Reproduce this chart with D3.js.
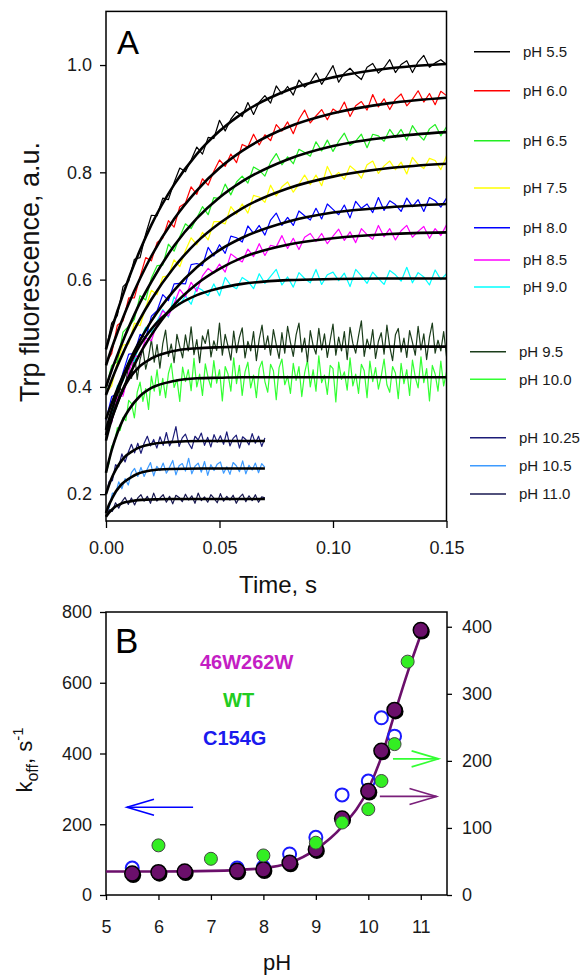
<!DOCTYPE html>
<html>
<head>
<meta charset="utf-8">
<script src="https://cdn.jsdelivr.net/npm/d3@7"></script>
<style>
  body { margin: 0; background: #fff; }
  svg { font-family: "Liberation Sans", Arial, sans-serif; }
</style>
</head>
<body>
<div id="chart"></div>
<script>
// ---------- Panel A: stopped-flow traces ----------
const phLabels = ["pH 5.5", "pH 6.0", "pH 6.5", "pH 7.5", "pH 8.0", "pH 8.5", "pH 9.0",
                  "pH 9.5", "pH 10.0", "pH 10.25", "pH 10.5", "pH 11.0"];
const traceColors = ["#000000", "#ff0000", "#22ee22", "#ffff00", "#0000ff", "#ff00ff", "#00ffff",
                     "#1b3d1b", "#33ff33", "#1c1c78", "#3d9bff", "#181850"];

// sampling grids of the recorded traces (s)
const tLong = d3.range(61).map(i => i * 0.0025);
const tDense = d3.range(121).map(i => i * 0.00125);
const tShort = d3.range(51).map(i => i * 0.0014);

const trace55 = [.470,.519,.533,.587,.597,.638,.641,.685,.720,.719,.752,.749,.781,.808,.801,.823,.847,.834,.865,.863,.897,.877,.899,.913,.904,.930,.908,.931,.943,.929,.961,.946,.960,.944,.972,.959,.968,.985,.964,.981,.999,.968,.985,.994,.982,.973,.996,1.003,.985,.995,1.010,.986,1.001,1.008,.986,1.006,1.018,.996,1.004,1.010,1.001];
const trace60 = [.445,.462,.515,.523,.566,.566,.605,.641,.635,.669,.677,.710,.698,.736,.743,.773,.759,.788,.776,.802,.823,.811,.834,.818,.852,.847,.871,.851,.870,.859,.889,.877,.894,.872,.899,.916,.892,.905,.917,.898,.918,.911,.931,.904,.924,.932,.916,.945,.922,.937,.917,.936,.946,.924,.936,.952,.931,.947,.926,.951,.943];
const trace65 = [.397,.440,.447,.502,.513,.526,.570,.562,.603,.626,.627,.666,.653,.680,.704,.695,.715,.736,.721,.753,.751,.778,.758,.782,.793,.780,.810,.804,.793,.819,.835,.814,.829,.816,.843,.837,.830,.857,.840,.860,.839,.858,.873,.850,.858,.871,.846,.871,.868,.858,.880,.865,.880,.860,.887,.871,.860,.881,.889,.868,.885];
const trace75 = [.389,.402,.447,.478,.480,.519,.514,.548,.580,.572,.605,.607,.637,.624,.654,.678,.665,.688,.674,.708,.708,.704,.736,.722,.741,.724,.757,.754,.744,.776,.756,.773,.782,.763,.778,.795,.777,.795,.775,.811,.790,.800,.787,.812,.803,.789,.814,.821,.798,.812,.821,.805,.819,.797,.828,.815,.807,.826,.822,.805,.831];
const trace80 = [.338,.382,.387,.427,.461,.462,.498,.491,.532,.542,.572,.561,.592,.593,.592,.628,.630,.626,.660,.644,.665,.649,.681,.678,.670,.700,.686,.701,.683,.711,.724,.701,.716,.701,.728,.719,.711,.733,.713,.741,.731,.721,.739,.715,.746,.733,.741,.725,.753,.729,.747,.740,.727,.752,.736,.749,.727,.753,.747,.735,.752];
const trace85 = [.313,.334,.381,.383,.427,.457,.458,.491,.486,.518,.542,.532,.555,.582,.568,.595,.578,.607,.621,.612,.629,.614,.648,.640,.633,.657,.643,.667,.645,.664,.661,.682,.658,.677,.656,.679,.686,.671,.686,.667,.681,.694,.673,.689,.669,.695,.684,.675,.701,.680,.695,.674,.691,.701,.679,.690,.699,.677,.695,.682,.702];
const trace90 = [.326,.347,.402,.411,.450,.447,.486,.511,.502,.523,.544,.530,.568,.553,.570,.554,.586,.580,.570,.592,.570,.604,.589,.583,.604,.597,.583,.611,.593,.606,.619,.590,.605,.586,.613,.602,.594,.619,.591,.609,.614,.598,.612,.587,.619,.607,.593,.614,.602,.591,.617,.609,.597,.623,.594,.613,.605,.590,.618,.600,.611];
const trace95 = [.300,.330,.334,.368,.367,.399,.386,.410,.439,.416,
  .466,.414,.451,.471,.433,.456,.488,.446,.479,.435,
  .480,.506,.457,.480,.445,.498,.475,.454,.497,.467,
  .512,.460,.488,.445,.495,.481,.507,.456,.486,.468,
  .519,.459,.498,.476,.450,.504,.464,.492,.510,.454,
  .485,.467,.503,.449,.489,.515,.470,.495,.459,.507,
  .479,.453,.501,.463,.513,.483,.457,.497,.519,.465,
  .491,.447,.505,.477,.461,.509,.469,.499,.455,.487,
  .517,.459,.493,.467,.503,.451,.511,.481,.463,.495,
  .523,.457,.489,.471,.507,.453,.485,.501,.461,.515,
  .475,.449,.497,.509,.465,.491,.455,.505,.483,.459,
  .513,.469,.499,.451,.493,.519,.463,.487,.467,.503,
  .457];
const trace100 = [.240,.257,.289,.296,.324,.319,.343,.337,.375,.369,
  .342,.390,.409,.373,.397,.358,.420,.392,.432,.384,
  .416,.380,.425,.444,.399,.414,.373,.437,.410,.432,
  .393,.453,.400,.424,.384,.443,.417,.399,.449,.407,
  .432,.374,.438,.424,.392,.454,.406,.440,.384,.428,
  .446,.398,.422,.380,.434,.448,.410,.390,.442,.430,
  .376,.436,.452,.404,.420,.388,.444,.412,.438,.382,
  .426,.450,.400,.432,.392,.458,.408,.422,.386,.440,
  .434,.372,.446,.414,.428,.394,.454,.402,.424,.388,
  .442,.430,.380,.448,.410,.436,.396,.420,.452,.404,
  .390,.438,.426,.378,.444,.406,.432,.384,.450,.418,
  .398,.456,.408,.434,.374,.440,.424,.392,.448,.402,
  .428];
const trace1025 = [.200,.224,.225,.255,.251,.275,.260,.278,.293,.277,.295,.276,.295,.308,.290,.302,.286,.307,.291,.315,.290,.302,.326,.289,.305,.312,.295,.285,.308,.301,.314,.291,.306,.288,.311,.297,.309,.293,.316,.290,.304,.310,.286,.307,.302,.292,.313,.295,.308,.289,.305];
const trace105 = [.167,.175,.202,.201,.223,.210,.229,.217,.240,.248,.233,.250,.233,.247,.259,.234,.252,.244,.258,.239,.250,.263,.236,.253,.257,.243,.267,.238,.252,.258,.241,.261,.235,.255,.244,.256,.260,.239,.251,.237,.259,.253,.242,.262,.238,.254,.245,.258,.240,.257,.250];
const trace110 = [.158,.171,.168,.184,.174,.186,.194,.181,.193,.180,.193,.199,.187,.196,.183,.202,.187,.193,.199,.185,.196,.182,.198,.194,.186,.200,.189,.197,.183,.202,.188,.195,.185,.199,.192,.184,.201,.187,.196,.189,.198,.183,.194,.200,.186,.197,.188,.199,.185,.195,.193];

// single-exponential fits, read at these times
const fitTimesLong = [0, 0.0025, 0.005, 0.0075, 0.01, 0.015, 0.02, 0.03, 0.04, 0.05, 0.06, 0.08, 0.1, 0.125, 0.15];
const fitTimesShort = [0, 0.0014, 0.0028, 0.0042, 0.0056, 0.007, 0.0084, 0.0112, 0.014, 0.0196, 0.028, 0.042, 0.07];
const fit55 = [.470,.507,.541,.572,.602,.655,.702,.777,.834,.877,.910,.953,.977,.994,1.002];
const fit60 = [.440,.472,.501,.529,.555,.602,.644,.713,.766,.808,.840,.884,.910,.929,.939];
const fit65 = [.400,.431,.459,.486,.511,.557,.596,.663,.714,.753,.783,.824,.849,.866,.875];
const fit75 = [.385,.413,.439,.463,.486,.527,.563,.623,.670,.705,.733,.770,.792,.808,.816];
const fit80 = [.340,.369,.396,.421,.445,.487,.523,.580,.623,.655,.678,.708,.725,.735,.741];
const fit85 = [.310,.341,.369,.396,.419,.462,.497,.553,.592,.620,.641,.665,.677,.685,.688];
const fit90 = [.320,.356,.388,.415,.439,.478,.508,.548,.571,.584,.592,.599,.601,.602,.602];
const fit95 = [.300,.340,.371,.395,.414,.439,.453,.467,.472,.474,.475,.475,.475,.475,.475];
const fit100 = [.240,.282,.314,.339,.357,.383,.398,.411,.416,.417,.418,.418,.418,.418,.418];
const fit1025 = [.200,.218,.233,.245,.255,.263,.270,.279,.286,.293,.297,.299,.299];
const fit105 = [.165,.181,.193,.204,.212,.219,.224,.232,.238,.244,.247,.248,.248];
const fit110 = [.158,.166,.172,.177,.180,.183,.185,.187,.189,.190,.191,.191,.191];

const traceValues = [trace55, trace60, trace65, trace75, trace80, trace85, trace90, trace95, trace100, trace1025, trace105, trace110];
const traceTimes = [tLong, tLong, tLong, tLong, tLong, tLong, tLong, tDense, tDense, tShort, tShort, tShort];
const fitValues = [fit55, fit60, fit65, fit75, fit80, fit85, fit90, fit95, fit100, fit1025, fit105, fit110];
const fitTimes = [fitTimesLong, fitTimesLong, fitTimesLong, fitTimesLong, fitTimesLong, fitTimesLong, fitTimesLong,
                  fitTimesLong, fitTimesLong, fitTimesShort, fitTimesShort, fitTimesShort];

// ---------- Panel B: k_off vs pH ----------
const phMutant = [5.5, 6, 6.5, 7.5, 8, 8.5, 9, 9.5, 10, 10.25, 10.5, 11];
const koffMutant = [32, 34, 35, 36, 38, 48, 68, 114, 155, 215, 276, 395];      // right axis
const phWT = [6, 7, 8, 9, 9.5, 10, 10.25, 10.5, 10.75];
const koffWT = [74, 54, 59, 78, 108, 128, 170, 225, 348];                        // right axis
const phC154G = [5.5, 7.5, 8, 8.5, 9, 9.5, 10, 10.25, 10.5];
const koffC154G = [76, 76, 79, 116, 163, 283, 322, 501, 449];                    // left axis
const phFit = [5, 6, 7, 8, 8.5, 9, 9.5, 10, 10.25, 10.5, 10.75, 11];
const koffFit = [35, 35, 36, 40, 48, 68, 102, 158, 206, 270, 332, 388];
// arrows telling which axis each set belongs to
const arrowFromPH = [6.66, 10.47, 10.22];
const arrowToPH = [5.4, 11.34, 11.3];
const arrowKoff = [248, 203, 147];
const arrowAxis = ["left", "right", "right"];
const arrowColors = ["#0000ff", "#33ff33", "#7a1f7a"];

const W = 583, H = 976;
const svg = d3.select("#chart").append("svg").attr("width", W).attr("height", H);

function styleAxis(g, size) {
  g.attr("font-family", null).attr("font-size", null);
  g.select(".domain").remove();
  g.selectAll("line").attr("stroke", "#000").attr("stroke-width", 1.3);
  g.selectAll("text").attr("fill", "#1a1a1a").style("font-size", size + "px");
}

// ===== Panel A =====
const xA = d3.scaleLinear().domain([0, 0.15]).range([106, 446.5]);
const yA = d3.scaleLinear().domain([0.15, 1.1]).range([521, 11.4]);

const traceLine = d3.line().x(d => xA(d[0])).y(d => yA(d[1]));
const fitLine = d3.line().x(d => xA(d[0])).y(d => yA(d[1])).curve(d3.curveMonotoneX);

// draw last legend entry first so the upper traces sit on top
for (let i = traceValues.length - 1; i >= 0; i--) {
  const pts = traceValues[i].map((v, j) => [traceTimes[i][j], v]);
  svg.append("path")
    .datum(pts)
    .attr("fill", "none")
    .attr("stroke", traceColors[i])
    .attr("stroke-width", 1.2)
    .attr("stroke-linejoin", "round")
    .attr("d", traceLine);
}
fitValues.forEach((vals, i) => {
  const pts = vals.map((v, j) => [fitTimes[i][j], v]);
  svg.append("path")
    .datum(pts)
    .attr("fill", "none")
    .attr("stroke", "#000")
    .attr("stroke-width", 2.6)
    .attr("d", fitLine);
});

svg.append("rect")
  .attr("x", 106).attr("y", 11.4)
  .attr("width", 446.5 - 106).attr("height", 521 - 11.4)
  .attr("fill", "none").attr("stroke", "#000").attr("stroke-width", 1.5);

svg.append("g")
  .attr("transform", "translate(0,521)")
  .call(d3.axisBottom(xA).tickValues([0, 0.05, 0.1, 0.15]).tickFormat(d3.format(".2f"))
    .tickSize(7).tickPadding(13))
  .call(g => styleAxis(g, 18));

svg.append("g")
  .attr("transform", "translate(106,0)")
  .call(d3.axisLeft(yA).tickValues([0.2, 0.4, 0.6, 0.8, 1.0]).tickFormat(d3.format(".1f"))
    .tickSize(6).tickPadding(8))
  .call(g => styleAxis(g, 18));

svg.append("text")
  .attr("x", 117).attr("y", 54)
  .style("font-size", "33px")
  .text("A");

svg.append("text")
  .attr("transform", "translate(39,272) rotate(-90)")
  .attr("text-anchor", "middle")
  .style("font-size", "27px")
  .attr("fill", "#111")
  .text("Trp fluorescence, a.u.");

svg.append("text")
  .attr("x", 278).attr("y", 593)
  .attr("text-anchor", "middle")
  .style("font-size", "24px")
  .attr("fill", "#111")
  .text("Time, s");

// legend
const legendRows = [51.7, 90.7, 140.7, 188, 227.7, 260, 287, 351.7, 379.3, 437.7, 465.7, 494];
phLabels.forEach((label, i) => {
  const x0 = i < 7 ? 474 : 470;
  svg.append("line")
    .attr("x1", x0).attr("x2", x0 + 36)
    .attr("y1", legendRows[i]).attr("y2", legendRows[i])
    .attr("stroke", traceColors[i]).attr("stroke-width", 1.6);
  svg.append("text")
    .attr("x", x0 + 49).attr("y", legendRows[i])
    .attr("dy", "0.36em")
    .style("font-size", "15px")
    .attr("fill", "#1a1a1a")
    .text(label);
});

// ===== Panel B =====
const xB = d3.scaleLinear().domain([5, 11.5]).range([106, 447]);
const yL = d3.scaleLinear().domain([0, 800]).range([895, 612]);
const yR = d3.scaleLinear().domain([0, 422]).range([895, 612]);

svg.append("rect")
  .attr("x", 106).attr("y", 612)
  .attr("width", 447 - 106).attr("height", 895 - 612)
  .attr("fill", "none").attr("stroke", "#000").attr("stroke-width", 1.5);

svg.append("g")
  .attr("transform", "translate(0,895)")
  .call(d3.axisBottom(xB).tickValues([5, 6, 7, 8, 9, 10, 11]).tickFormat(d3.format("d"))
    .tickSize(5).tickPadding(20))
  .call(g => styleAxis(g, 18));

svg.append("g")
  .attr("transform", "translate(106,0)")
  .call(d3.axisLeft(yL).tickValues([0, 200, 400, 600, 800]).tickSize(6).tickPadding(8))
  .call(g => styleAxis(g, 18));

svg.append("g")
  .attr("transform", "translate(447,0)")
  .call(d3.axisRight(yR).tickValues([0, 100, 200, 300, 400]).tickSize(5).tickPadding(10))
  .call(g => styleAxis(g, 18));

// fit curve for 46W262W
svg.append("path")
  .datum(phFit.map((p, i) => [p, koffFit[i]]))
  .attr("fill", "none")
  .attr("stroke", "#6b0f6b")
  .attr("stroke-width", 2.6)
  .attr("d", d3.line().x(d => xB(d[0])).y(d => yR(d[1])).curve(d3.curveMonotoneX));

// C154G, open blue circles (left axis)
svg.append("g").selectAll("circle")
  .data(phC154G.map((p, i) => [p, koffC154G[i]]))
  .join("circle")
  .attr("cx", d => xB(d[0])).attr("cy", d => yL(d[1]))
  .attr("r", 6.5)
  .attr("fill", "none").attr("stroke", "#1a1aff").attr("stroke-width", 2);

// 46W262W, dark purple circles with shadow (right axis)
const mutantPts = phMutant.map((p, i) => [p, koffMutant[i]]);
const gMut = svg.append("g");
gMut.selectAll("circle.shadow")
  .data(mutantPts)
  .join("circle")
  .attr("class", "shadow")
  .attr("cx", d => xB(d[0]) + 1).attr("cy", d => yR(d[1]) + 1.5)
  .attr("r", 8).attr("fill", "#000");
gMut.selectAll("circle.dot")
  .data(mutantPts)
  .join("circle")
  .attr("class", "dot")
  .attr("cx", d => xB(d[0])).attr("cy", d => yR(d[1]))
  .attr("r", 7.5)
  .attr("fill", "#6b0f6b").attr("stroke", "#000").attr("stroke-width", 1.5);

// WT, green circles (right axis)
svg.append("g").selectAll("circle")
  .data(phWT.map((p, i) => [p, koffWT[i]]))
  .join("circle")
  .attr("cx", d => xB(d[0])).attr("cy", d => yR(d[1]))
  .attr("r", 6.5)
  .attr("fill", "#33ee22").attr("stroke", "#444").attr("stroke-width", 1);

// axis arrows
arrowFromPH.forEach((from, i) => {
  const y = arrowAxis[i] === "left" ? yL(arrowKoff[i]) : yR(arrowKoff[i]);
  const x1 = xB(from), x2 = xB(arrowToPH[i]);
  const dir = Math.sign(x2 - x1);
  svg.append("line")
    .attr("x1", x1).attr("x2", x2).attr("y1", y).attr("y2", y)
    .attr("stroke", arrowColors[i]).attr("stroke-width", 1.6);
  svg.append("polyline")
    .attr("points", `${x2 - dir * 27},${y - 8} ${x2},${y} ${x2 - dir * 27},${y + 8}`)
    .attr("fill", "none")
    .attr("stroke", arrowColors[i]).attr("stroke-width", 1.6);
});

svg.append("text")
  .attr("x", 115).attr("y", 653)
  .style("font-size", "35px")
  .text("B");

const seriesNames = ["46W262W", "WT", "C154G"];
const seriesColors = ["#c41ec4", "#22cc22", "#1a1aee"];
const nameX = [200, 223, 203];
const nameY = [668.5, 706.5, 745];
seriesNames.forEach((n, i) => {
  svg.append("text")
    .attr("x", nameX[i]).attr("y", nameY[i])
    .style("font-size", "20px").style("font-weight", "bold")
    .attr("fill", seriesColors[i])
    .text(n);
});

const kt = svg.append("text")
  .attr("transform", "translate(32,760) rotate(-90)")
  .attr("text-anchor", "middle")
  .style("font-size", "22px")
  .attr("fill", "#111");
kt.append("tspan").text("k");
kt.append("tspan").attr("dy", 6).style("font-size", "16px").text("off");
kt.append("tspan").attr("dy", -6).text(", s");
kt.append("tspan").attr("dy", -9).style("font-size", "15px").text("-1");

svg.append("text")
  .attr("x", 277).attr("y", 970)
  .attr("text-anchor", "middle")
  .style("font-size", "22px")
  .attr("fill", "#111")
  .text("pH");
</script>
</body>
</html>
